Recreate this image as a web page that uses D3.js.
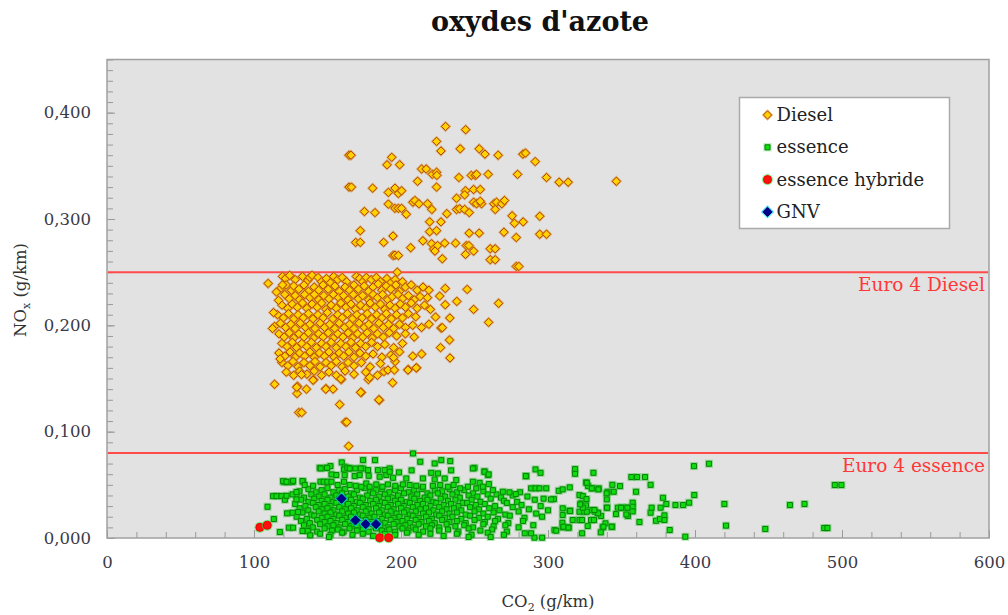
<!DOCTYPE html>
<html>
<head>
<meta charset="utf-8">
<script src="https://cdn.jsdelivr.net/npm/d3@7"></script>
<style>
  html, body { margin: 0; padding: 0; background: #fff; }
  #chart { width: 1008px; height: 615px; }
</style>
</head>
<body>
<div id="chart"></div>
<script>
// ===== données (CO2 g/km, NOx g/km) =====
const xTicks = [0, 100, 200, 300, 400, 500, 600];
const yTicks = [0, 0.1, 0.2, 0.3, 0.4];
const limits = [
  { label: "Euro 4 Diesel", value: 0.25 },
  { label: "Euro 4 essence", value: 0.08 }
];
const seriesNames = ["Diesel", "essence", "essence hybride", "GNV"];

// Diesel : nuage haut (au-dessus de la norme)
const dieselHigh = [
  [230.3,.387],[244,.384],[224.2,.373],[227.2,.364],[240.3,.366],[253.2,.366],[257.1,.361],[266.1,.360],[282.9,.361],[284.7,.362],
  [291.3,.354],[164.6,.360],[166,.360],[193.7,.358],[190.5,.351],[199.1,.351],[214,.347],[217.2,.347],[221.3,.342],[224.2,.344],
  [224.4,.341],[211.3,.3355],[239.4,.339],[247.8,.341],[250.5,.341],[251.4,.342],[259.3,.342],[279.3,.342],[299,.339],[307.6,.3346],
  [313.7,.3346],[346.5,.3355],[164.6,.330],[166.3,.330],[180.7,.329],[191.4,.325],[195.9,.329],[198.2,.324],[200.4,.3265],[224.2,.330],
  [249.4,.3277],[253.9,.3277],[243.9,.3265],[243.3,.3227],[237.8,.3195],[191.4,.314],[195.9,.310],[198.2,.310],[200.4,.310],[175.1,.307],
  [182.3,.306],[203.6,.3045],[208.1,.3158],[209.5,.3174],[212.2,.3143],[218.1,.3143],[221,.309],[231.2,.305],[237.8,.309],[239.9,.3096],
  [243.3,.309],[246.4,.306],[249.4,.3158],[251.4,.3143],[254.8,.3143],[253.9,.3167],[263.2,.3143],[265,.3158],[268.6,.3143],[270.4,.3174],
  [264.1,.309],[275.6,.303],[277.2,.296],[283.1,.2973],[294.4,.3026],[294.4,.2857],[299,.2857],[172.3,.289],[169.2,.278],[172.3,.278],
  [188.2,.278],[194.6,.284],[219.5,.2973],[227.2,.2973],[219.5,.288],[224.2,.289],[214.9,.2795],[206.6,.273],[220.8,.2767],[222.2,.2717],
  [224.9,.275],[223.1,.2698],[229.7,.2773],[237.1,.2773],[244.4,.275],[246.2,.275],[243.9,.2667],[249.4,.2698],[246.4,.2867],[253.2,.2867],
  [270,.2876],[278.4,.2826],[260.7,.272],[264.1,.272],[260.7,.2617],[264.1,.2617],[278.4,.2554],[280.2,.2554],[194.6,.2657],[195.9,.266],
  [198.2,.2657],[228.1,.2626],[197.5,.250]
];

// Diesel : nuage principal
const dieselMain = [
  [119.4,.246],[121.5,.244],[124.3,.247],[128,.243],[133,.246],[136.5,.242],[138,.245],[139.5,.247],[143.6,.245],[146,.241],
  [149.3,.244],[152,.240],[154.2,.246],[157,.243],[160,.245],[163,.241],[169.6,.246],[171.9,.244],[174,.241],[176.4,.245],
  [179.8,.243],[183.2,.245],[186,.241],[190.4,.244],[193,.240],[196,.243],[201,.241],
  [118.5,.235],[122,.238],[125.5,.233],[127,.237],[130.5,.234],[134,.238],[137,.232],[141,.236],[144,.233],[147,.238],
  [150.5,.234],[155,.237],[158,.232],[162,.236],[165,.233],[168,.238],[171,.234],[175,.237],[178,.232],[181,.236],
  [184.5,.239],[187,.233],[190,.237],[193,.234],[196.5,.238],[199,.232],[203,.236],[207,.238],[211,.233],[215,.236],[219,.233],
  [121,.229],[124,.225],[128,.228],[131,.224],[134.5,.229],[138,.226],[141,.229],[144,.224],[147.5,.228],[151,.225],
  [154,.229],[157.5,.226],[161,.228],[164,.224],[167.5,.229],[171,.225],[174,.228],[178,.224],[181,.229],[184,.226],
  [187.5,.229],[191,.224],[194,.227],[198,.229],[201,.225],[205,.228],[209,.224],[213,.227],[218,.226],
  [119,.219],[123,.216],[126,.220],[129.5,.217],[133,.221],[136,.216],[139.5,.220],[143,.217],[146,.221],[149,.215],
  [152.5,.219],[156,.216],[159,.221],[162.5,.217],[166,.220],[169,.215],[172.5,.219],[176,.216],[179,.221],[182.5,.217],
  [186,.220],[189,.215],[192.5,.219],[196,.216],[199.5,.220],[203,.217],[207,.221],[211,.216],[216,.219],[220,.215],
  [116,.210],[120,.207],[123.5,.211],[127,.206],[130,.210],[133.5,.207],[137,.211],[140,.206],[143.5,.210],[147,.207],
  [150,.212],[153.5,.206],[157,.210],[160,.207],[163.5,.211],[167,.206],[170,.210],[173.5,.207],[177,.211],[180,.206],
  [183.5,.210],[187,.207],[190,.211],[193.5,.206],[197,.210],[201,.207],[205,.211],[210,.208],
  [114,.199],[118,.202],[121.5,.198],[125,.201],[128,.197],[131.5,.202],[135,.198],[138,.201],[141.5,.197],[145,.202],
  [148,.198],[151.5,.201],[155,.197],[158,.202],[161.5,.198],[165,.201],[168,.197],[171.5,.202],[175,.198],[178,.201],
  [181.5,.197],[185,.202],[188,.198],[191.5,.201],[195,.197],[199,.201],[203,.198],[208,.200],[214,.198],[219,.201],
  [117,.192],[120.5,.189],[124,.193],[127,.188],[130.5,.192],[134,.189],[137,.193],[140.5,.188],[144,.192],[147,.189],
  [150.5,.193],[154,.188],[157,.192],[160.5,.189],[164,.193],[167,.188],[170.5,.192],[174,.189],[177,.193],[180.5,.188],
  [184,.192],[188,.189],[192,.193],[197,.190],[203,.192],[209,.189],
  [119,.183],[122.5,.180],[126,.184],[129,.179],[132.5,.183],[136,.180],[139,.184],[142.5,.179],[146,.183],[149,.180],
  [152.5,.184],[156,.179],[159,.183],[162.5,.180],[166,.184],[169,.179],[172.5,.183],[176,.180],[180,.184],[184,.180],
  [189,.182],[195,.179],[201,.183],
  [117,.174],[121,.171],[124.5,.175],[128,.170],[131,.174],[134.5,.171],[138,.175],[141,.170],[144.5,.174],[148,.171],
  [151,.175],[154.5,.170],[158,.174],[161,.171],[164.5,.175],[168,.170],[172,.174],[176,.171],[181,.173],[187,.170],
  [193,.172],[199,.175],[208,.171],[214,.173],
  [119,.165],[123,.162],[126.5,.166],[130,.161],[134,.165],[138,.162],[141.5,.166],[145,.161],[149,.165],[152.5,.162],
  [156,.166],[160,.161],[164,.165],[168,.162],[173,.165],[179,.161],[186,.164],[196,.166],
  [122,.156],[127,.153],[131,.157],[136,.154],[141,.157],[146,.153],[151,.156],[156,.153],[162,.157],[168,.154],[176,.156],[184,.153]
];

// Diesel : points isolés (bords et bas)
const dieselLow = [
  [114,.1446],[129.6,.1427],[129.3,.1359],[135.7,.140],[149,.1405],[153.8,.140],[130.5,.118],[132.5,.118],[158.3,.1255],[162.2,.109],
  [163.1,.109],[173,.1368],[185.3,.1296],[164.4,.0864],[177.8,.149],[178.7,.151],[194.3,.146],[159.5,.149],[188.4,.1565],[191.1,.158],
  [195.5,.158],[205,.1584],[210.6,.160],[140.5,.149],[132.3,.1537],[112.6,.197],[113.3,.212],[109.6,.2394],[119.4,.238],[115.3,.2313],
  [116.7,.2235],[117.8,.1684],[230.1,.2347],[230.1,.2194],[233.2,.2069],[227.2,.1975],[233.3,.1693],[210.4,.160],[204.7,.158],[195,.1697],
  [185,.130],[172.6,.137],[159,.1496],[140.2,.1484],[129.1,.1418],[148.8,.140],[226.3,.2275],[223.5,.2078],[226.9,.179],[228.1,.1978],
  [249.4,.215],[259.6,.2028],[266.4,.2207],[245,.2338],[238,.2225],[233,.1862]
];

// essence : points périphériques
const essenceEdge = [
  [109.2,.0294],[113.5,.0178],[117.6,.0056],[113,.0394],[115.3,.0394],[118.7,.0394],[121,.036],[122.1,.0397],[126.2,.041],[128.9,.0432],
  [120.5,.0526],[123.2,.0526],[126.2,.0526],[123.7,.0097],[126.6,.0097],[122.5,.0232],[126.2,.0238],[130,.0244],[128.9,.0363],[133.4,.0529],
  [136.6,.0066],[133,.0066],[138.2,.0025],[144.7,.066],[149.3,.066],[152,.0676],[159.7,.0711],[161.7,.067],[164.6,.0654],[169,.0654],
  [174.2,.0732],[174.2,.0654],[182.3,.0732],[192.3,.0654],[208.2,.0795],[213.1,.0717],[222.9,.0701],[227.4,.0732],[233.5,.0723],[250,.066],
  [256.8,.0626],[259.1,.0592],[285.2,.0582],[291.5,.0645],[294.9,.0613],[318.4,.0648],[318.4,.0604],[330.9,.0613],[356.7,.0573],[360.6,.0573],
  [366,.0573],[369.8,.050],[343.8,.050],[349,.0488],[325.9,.0523],[327.3,.0488],[330,.0467],[334.5,.0467],[340.6,.0435],[344.7,.0435],
  [359.9,.0435],[399.5,.0404],[378.2,.0378],[380.5,.032],[386.7,.031],[391.9,.031],[396,.0332],[420,.032],[464.6,.031],[474.5,.032],
  [421.1,.0116],[447.8,.0085],[487.9,.0094],[490.1,.0094],[495.1,.0498],[499.6,.0498],[382.8,.0075],[393.4,.0012],[362.2,.015],[373.5,.0162],
  [376.2,.0178],[379.2,.0213],[379.2,.0169],[369.8,.0238],[370.5,.0285],[376.6,.0285],[357.6,.0332],[357.6,.0294],[357.6,.025],[347.5,.0285],
  [350.4,.0285],[353.8,.0285],[354.4,.0207],[346.3,.0225],[340,.0363],[340,.0285],[336.1,.0207],[337.2,.010],[343.6,.0106],[335.9,.0053],
  [323.2,.0044],[327,.0113],[329.3,.0169],[331.3,.0169],[330,.0263],[331.8,.0247],[333.8,.0238],[325.9,.0307],[321.4,.0404],[322.5,.0326],
  [321.4,.0247],[324.6,.0247],[316.8,.0169],[321.4,.0169],[323.2,.0169],[314.6,.0257],[309.8,.0144],[310,.010],[310,.0216],[310,.0279],
  [314.1,.010],[304,.0366],[302.1,.0363],[307.3,.0444],[310,.0457],[314.8,.0476],[278.1,.0413],[288.5,.0467],[291.5,.0467],[294.2,.0467],
  [298.8,.0467],[304.4,.0075],[305.6,.0069],[296,.0003],[290.8,.0003],[284.2,.0044],[288.5,.0044],[399.3,.0676],[409.5,.0698],[339.1,.0138],
  [337.7,.0106],[340.2,.0285],[339.9,.042],[323.7,.0394],[326.2,.0366],[326.4,.0519],[329.8,.0467],[334.3,.0457],[334.1,.0232],[331.6,.0263],
  [326.4,.0247],[323.7,.0285],[321.9,.0316],[315.1,.0254],[310.5,.0106],[313.9,.0097],[343.3,.0106],[353.3,.0222],[354,.0285],[349.7,.0285],
  [152.7,.0598],[156,.0592],[161.7,.0592],[168.5,.0582],[171.9,.0592],[178,.0585],[185.5,.0576],[190,.0592],[194.6,.0566],[203.6,.056],
  [214.9,.056],[222.9,.0551],[229.7,.056],[237.6,.0545],[248.9,.0529],[253.5,.0519],[259.8,.0507],[145.4,.0654],[149.7,.066],[161.3,.0645],
  [163.5,.066],[165.1,.0654],[172.6,.0654],[177.6,.0638],[184.3,.0638],[188.9,.0638],[192.3,.0623],[198.6,.0617],[207.2,.0636],[220.6,.0613],
  [225.1,.0607],[234.1,.0636],[248.9,.0654],[256.8,.0623],[259.6,.0598],[284.9,.0582],
  [119.8,.0535],[122.1,.0529],[126.6,.0538],[133,.0535],[134.5,.0498],[140.2,.0491],[145.2,.0529],[147.4,.0529],[149.9,.0529],[152.7,.0529],
  [156.9,.0498],[161.2,.0529],[165.1,.0498],[169.2,.0491],[173,.0482],[176.4,.0513],[178.7,.0482],[183.2,.0504],[187.3,.0482],[191.1,.0504],
  [196.1,.0491],[201.3,.0504],[205.9,.0498],[210.4,.0491],[214.9,.0482],[221.7,.0491],[226.7,.0498],[231.9,.0482],[235.8,.0498],[240.3,.0467],
  [245.5,.0482],[251.2,.0467],[255.7,.0482],[262.5,.045],[269.3,.0435],[273.8,.0429],[151,.001],[246,.001],[261,.001]
];

// essence : coeur du nuage
const essenceCore = [
  [131,.044],[137,.046],[142,.043],[146,.045],[150,.047],[154,.043],[158,.045],[162,.046],[166,.042],[170,.045],[175,.047],[179,.043],
  [183,.045],[187,.046],[192,.043],[196,.045],[200,.047],[205,.043],[209,.045],[214,.046],[218,.042],[223,.045],[228,.044],[233,.046],
  [238,.043],[243,.045],[249,.042],[256,.044],[265,.041],[281,.043],
  [129,.040],[134,.038],[139,.041],[144,.039],[148,.041],[152,.038],[156,.040],[160,.042],[164,.039],[168,.041],[172,.038],[177,.040],
  [181,.042],[185,.039],[189,.041],[194,.038],[198,.040],[202,.042],[207,.039],[211,.041],[216,.038],[220,.040],[225,.042],[230,.039],
  [235,.041],[240,.038],[246,.040],[252,.039],[259,.041],[268,.038],[276,.040],[286,.039],[297,.037],
  [132,.036],[137,.034],[141,.037],[146,.035],[150,.036],[154,.034],[158,.037],[162,.035],[166,.036],[170,.034],[174,.037],[179,.035],
  [183,.036],[187,.034],[191,.037],[196,.035],[200,.036],[204,.034],[209,.037],[213,.035],[218,.036],[222,.034],[227,.037],[232,.035],
  [237,.036],[242,.033],[248,.036],[254,.034],[261,.037],[270,.035],[279,.034],[291,.036],
  [128,.032],[135,.030],[140,.033],[144,.031],[148,.032],[152,.030],[156,.033],[160,.031],[164,.032],[168,.030],[172,.033],[176,.031],
  [181,.032],[185,.030],[189,.033],[193,.031],[198,.032],[202,.030],[206,.033],[211,.031],[215,.032],[220,.030],[224,.033],[229,.031],
  [234,.032],[239,.030],[245,.033],[251,.031],[257,.032],[264,.030],[272,.033],[282,.031],[295,.030],
  [131,.028],[137,.026],[142,.029],[146,.027],[150,.028],[154,.026],[158,.029],[162,.027],[166,.028],[170,.026],[174,.029],[178,.027],
  [183,.028],[187,.026],[191,.029],[195,.027],[200,.028],[204,.026],[208,.029],[213,.027],[217,.028],[222,.026],[226,.029],[231,.027],
  [236,.028],[241,.026],[247,.029],[253,.027],[260,.028],[267,.026],[276,.029],[287,.027],[300,.026],
  [133,.024],[139,.022],[144,.025],[148,.023],[152,.024],[156,.022],[160,.025],[164,.023],[168,.024],[172,.022],[176,.025],[180,.023],
  [185,.024],[189,.022],[193,.025],[197,.023],[202,.024],[206,.022],[210,.025],[215,.023],[219,.024],[224,.022],[228,.025],[233,.023],
  [238,.024],[244,.022],[250,.025],[256,.023],[263,.024],[271,.022],[280,.025],[292,.023],
  [129,.020],[136,.018],[141,.021],[146,.019],[150,.020],[154,.018],[158,.021],[162,.019],[166,.020],[170,.018],[174,.021],[178,.019],
  [182,.020],[187,.018],[191,.021],[195,.019],[199,.020],[204,.018],[208,.021],[212,.019],[217,.020],[221,.018],[226,.021],[230,.019],
  [235,.020],[241,.018],[247,.021],[253,.019],[259,.020],[266,.018],[274,.021],[284,.019],[296,.020],
  [132,.016],[138,.014],[143,.017],[148,.015],[152,.016],[156,.014],[160,.017],[164,.015],[168,.016],[172,.014],[176,.017],[180,.015],
  [184,.016],[189,.014],[193,.017],[197,.015],[201,.016],[206,.014],[210,.017],[214,.015],[219,.016],[223,.014],[228,.017],[233,.015],
  [238,.016],[244,.014],[250,.017],[257,.015],[264,.016],[273,.014],[283,.016],
  [134,.012],[140,.010],[145,.013],[150,.011],[154,.012],[158,.010],[162,.013],[166,.011],[170,.012],[174,.010],[178,.013],[182,.011],
  [186,.012],[191,.010],[195,.013],[199,.011],[203,.012],[208,.010],[212,.013],[217,.011],[221,.012],[226,.010],[231,.013],[237,.011],
  [243,.012],[249,.010],[256,.013],[263,.011],[271,.012],[280,.010],[290,.012],
  [137,.008],[143,.006],[148,.009],[153,.007],[157,.008],[161,.006],[165,.009],[170,.007],[174,.008],[178,.006],[183,.009],[187,.007],
  [192,.008],[196,.006],[201,.009],[205,.007],[210,.008],[215,.006],[220,.009],[226,.007],[232,.008],[239,.006],[246,.009],[254,.007],
  [262,.008],[272,.006],
  [145,.004],[152,.003],[160,.005],[167,.003],[174,.004],[181,.002],[189,.004],[196,.003],[204,.005],[212,.003],[220,.004],[229,.002],
  [238,.004],[248,.003],[259,.005],[270,.003]
];

const hybride = [[104,.010],[109,.012],[185.5,.0003],[191.6,.0003]];
const gnv = [[159.5,.037],[169,.0166],[176,.013],[183,.013]];

(function () {
  // ===== mise en page =====
  const W = 1008, H = 615;
  const PLOT = { left: 107, right: 989, top: 59.5, bottom: 538 };
  const SERIF = "'DejaVu Serif', serif";

  const svg = d3.select('#chart').append('svg')
    .attr('width', W).attr('height', H)
    .style('font-family', SERIF);

  const x = d3.scaleLinear().domain([0, 600]).range([PLOT.left, PLOT.right]);
  const y = d3.scaleLinear().domain([0, 0.45]).range([PLOT.bottom, PLOT.top]);

  // fond
  svg.append('rect')
    .attr('x', PLOT.left).attr('y', PLOT.top)
    .attr('width', PLOT.right - PLOT.left).attr('height', PLOT.bottom - PLOT.top)
    .attr('fill', '#e2e2e2');

  // titre
  svg.append('text')
    .attr('x', 540).attr('y', 31)
    .attr('text-anchor', 'middle')
    .style('font-size', '27px').style('font-weight', 'bold')
    .attr('fill', '#111')
    .text("oxydes d'azote");

  // graduations mineures (vers l'intérieur)
  svg.append('g')
    .attr('transform', `translate(${PLOT.left},0)`)
    .call(d3.axisLeft(y).tickValues(d3.range(0, 0.451, 0.01)).tickSize(-6).tickFormat(''))
    .call(g => g.select('.domain').remove())
    .call(g => g.selectAll('line').attr('stroke', '#9a9a9a'));

  svg.append('g')
    .attr('transform', `translate(0,${PLOT.bottom})`)
    .call(d3.axisBottom(x).tickValues(d3.range(0, 601, 20)).tickSize(-6).tickFormat(''))
    .call(g => g.select('.domain').remove())
    .call(g => g.selectAll('line').attr('stroke', '#9a9a9a'));

  // axes principaux
  const fmtY = d => d3.format('.3f')(d).replace('.', ',');
  svg.append('g')
    .attr('transform', `translate(${PLOT.left},0)`)
    .call(d3.axisLeft(y).tickValues(yTicks).tickSize(-8).tickPadding(16).tickFormat(fmtY))
    .call(g => g.select('.domain').remove())
    .call(g => g.selectAll('line').attr('stroke', '#9a9a9a'))
    .call(g => g.selectAll('text').attr('fill', '#3a3a48').style('font-size', '16.5px').style('font-family', SERIF));

  svg.append('g')
    .attr('transform', `translate(0,${PLOT.bottom})`)
    .call(d3.axisBottom(x).tickValues(xTicks).tickSize(-8).tickPadding(18).tickFormat(d3.format('d')))
    .call(g => g.select('.domain').remove())
    .call(g => g.selectAll('line').attr('stroke', '#9a9a9a'))
    .call(g => g.selectAll('text').attr('fill', '#3a3a48').style('font-size', '16.5px').style('font-family', SERIF));

  // cadre
  svg.append('rect')
    .attr('x', PLOT.left).attr('y', PLOT.top)
    .attr('width', PLOT.right - PLOT.left).attr('height', PLOT.bottom - PLOT.top)
    .attr('fill', 'none').attr('stroke', '#a0a0a0').attr('stroke-width', 1.5);

  // titres des axes
  const xt = svg.append('text')
    .attr('x', 548).attr('y', 607)
    .attr('text-anchor', 'middle')
    .style('font-size', '16.5px').attr('fill', '#333');
  xt.append('tspan').text('CO');
  xt.append('tspan').attr('dy', 4).style('font-size', '11px').text('2');
  xt.append('tspan').attr('dy', -4).text(' (g/km)');

  const yt = svg.append('text')
    .attr('transform', 'translate(26,290) rotate(-90)')
    .attr('text-anchor', 'middle')
    .style('font-size', '16.5px').attr('fill', '#333');
  yt.append('tspan').text('NO');
  yt.append('tspan').attr('dy', 4).style('font-size', '11px').text('x');
  yt.append('tspan').attr('dy', -4).text(' (g/km)');

  // normes Euro 4
  limits.forEach(l => {
    svg.append('line')
      .attr('x1', PLOT.left + 1).attr('x2', PLOT.right - 1)
      .attr('y1', y(l.value)).attr('y2', y(l.value))
      .attr('stroke', '#ff4a4a').attr('stroke-width', 2);
    svg.append('text')
      .attr('x', PLOT.right - 4).attr('y', y(l.value) + 19)
      .attr('text-anchor', 'end')
      .style('font-size', '18.5px').attr('fill', '#ff3838')
      .text(l.label);
  });

  const diamond = r => `M0,${-r}L${r},0L0,${r}L${-r},0Z`;
  const square = s => `M${-s / 2},${-s / 2}h${s}v${s}h${-s}Z`;
  const circle = r => `M${-r},0a${r},${r} 0 1,0 ${2 * r},0a${r},${r} 0 1,0 ${-2 * r},0Z`;

  const STYLES = {
    'Diesel': { halo: diamond(5.7), haloFill: 'rgba(215,130,20,0.6)', mark: diamond(4.1), fill: '#ffd200', stroke: '#b44400' },
    'essence': { halo: square(8), haloFill: 'rgba(40,190,40,0.4)', mark: square(5), fill: '#10dd10', stroke: '#008400' },
    'essence hybride': { halo: circle(5.5), haloFill: 'rgba(60,230,60,0.6)', mark: circle(4), fill: '#ff1010', stroke: '#ee0000' },
    'GNV': { halo: diamond(6.6), haloFill: 'rgba(0,200,255,0.7)', mark: diamond(4.6), fill: '#00008c', stroke: '#000060' }
  };

  function drawSeries(data, name) {
    const st = STYLES[name];
    const layer = svg.append('g');
    const pts = layer.selectAll('g').data(data).join('g')
      .attr('transform', d => `translate(${x(d[0])},${y(d[1])})`);
    pts.append('path').attr('d', st.halo).attr('fill', st.haloFill);
    pts.append('path').attr('d', st.mark).attr('fill', st.fill)
      .attr('stroke', st.stroke).attr('stroke-width', 1);
  }

  drawSeries(dieselHigh.concat(dieselMain, dieselLow), 'Diesel');
  drawSeries(essenceCore.concat(essenceEdge), 'essence');
  drawSeries(hybride, 'essence hybride');
  drawSeries(gnv, 'GNV');

  // légende
  const lg = svg.append('g');
  lg.append('rect')
    .attr('x', 739.5).attr('y', 97.5).attr('width', 210).attr('height', 131)
    .attr('fill', '#fff').attr('stroke', '#aaa').attr('stroke-width', 1.5);
  seriesNames.forEach((name, i) => {
    const cy = 115 + i * 32.3;
    const st = STYLES[name];
    const m = lg.append('g').attr('transform', `translate(767.5,${cy})`);
    m.append('path').attr('d', st.halo).attr('fill', st.haloFill);
    m.append('path').attr('d', st.mark).attr('fill', st.fill).attr('stroke', st.stroke);
    lg.append('text')
      .attr('x', 776.5).attr('y', cy + 6)
      .style('font-size', '18px').attr('fill', '#222')
      .text(name);
  });
})();
</script>
</body>
</html>
